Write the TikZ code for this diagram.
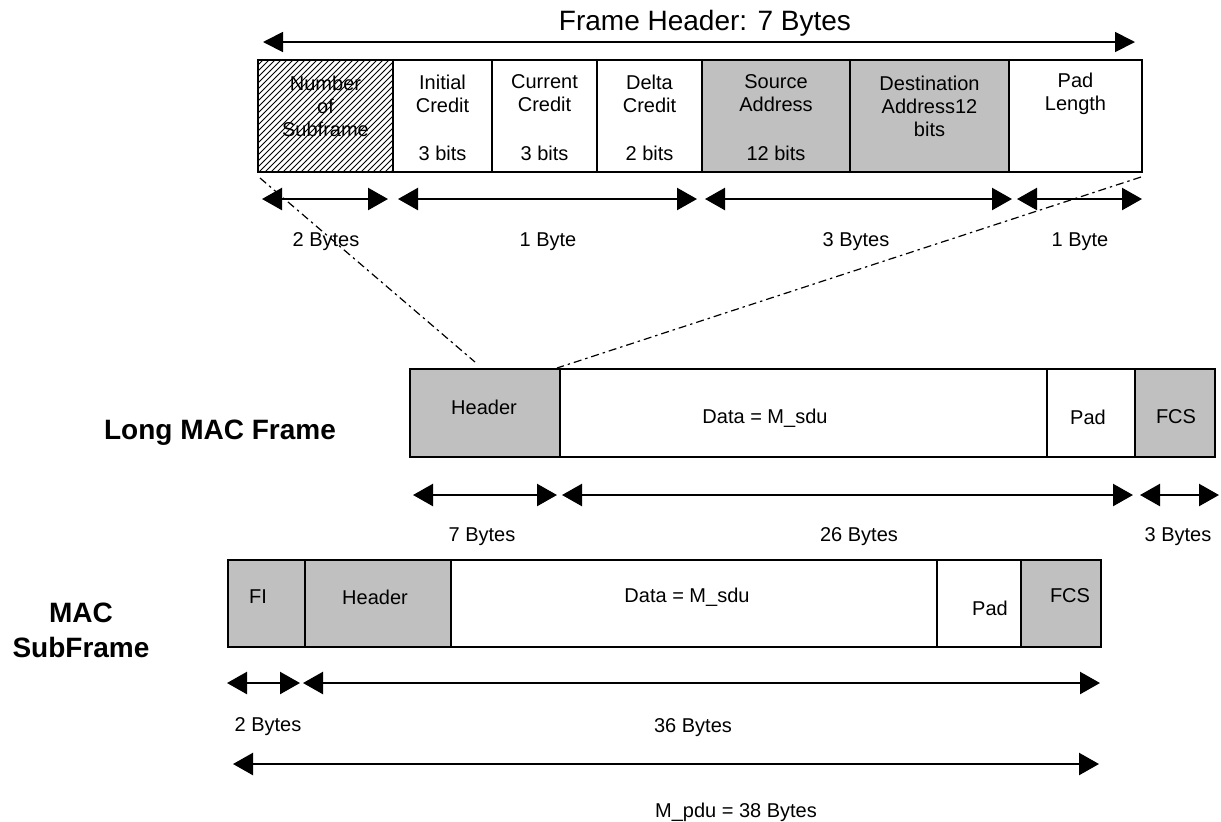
\documentclass[tikz,border=0pt]{standalone}
\usepackage{fontspec}
\setmainfont{Liberation Sans}
\usetikzlibrary{
  arrows.meta,
  patterns,
  positioning
}
\definecolor{shade}{RGB}{192,192,192}
\tikzset{
  field/.style={draw,line width=0.8pt},
  lbl/.style={font=\fontsize{10}{11.5}\selectfont,align=center,inner sep=0pt},
  big/.style={font=\fontsize{14}{17.5}\selectfont\bfseries,align=center,inner sep=0pt},
  dim/.style={line width=1.2pt,{Triangle[length=10pt,width=11pt]}-{Triangle[length=10pt,width=11pt]}},
  zoomline/.style={line width=0.6pt,dash pattern=on 4pt off 2pt on 1.2pt off 2pt}
}

\begin{document}
\begin{tikzpicture}[x=0.5pt,y=-0.5pt]
    %initialisation
    \useasboundingbox (0,0) rectangle (1221,821);
    %definitions
    \coordinate (zl) at (260,178);
    \coordinate (zr) at (1141,177);
    \coordinate (hl) at (475,362);
    \coordinate (hr) at (557,368);
    %frame header
    \draw[line width=0.9pt,{Triangle[length=10pt,width=10pt]}-{Triangle[length=10pt,width=10pt]}] (263,42) -- (1135,42);
    \node[font=\fontsize{14}{16}\selectfont,inner sep=0pt] (title) at (705,23) {Frame Header: 7 Bytes};
    \draw[field,pattern=north east lines] (258,60) rectangle (393,172);
    \draw[field] (393,60) rectangle (492,172);
    \draw[field] (492,60) rectangle (597,172);
    \draw[field] (597,60) rectangle (702,172);
    \draw[field,fill=shade] (702,60) rectangle (850,172);
    \draw[field,fill=shade] (850,60) rectangle (1009,172);
    \draw[field] (1009,60) rectangle (1142,172);
    \node[lbl] (nsub) at (325.5,106) {Number\\of\\Subframe};
    \node[lbl] (icred) at (442.5,93.5) {Initial\\Credit};
    \node[lbl] (ibits) at (442.5,153) {3 bits};
    \node[lbl] (ccred) at (544.5,93.5) {Current\\Credit};
    \node[lbl] (cbits) at (544.5,153) {3 bits};
    \node[lbl] (dcred) at (649.5,93.5) {Delta\\Credit};
    \node[lbl] (dbits) at (649.5,153) {2 bits};
    \node[lbl] (saddr) at (776,93.5) {Source\\Address};
    \node[lbl] (sbits) at (776,153) {12 bits};
    \node[lbl] (daddr) at (929.5,106) {Destination\\Address12\\bits};
    \node[lbl] (padlen) at (1075.5,93.5) {Pad\\Length};
    \draw[dim] (262,199) -- (388,199);
    \draw[dim] (398,199) -- (697,199);
    \draw[dim] (705,199) -- (1012,199);
    \draw[dim] (1017,199) -- (1142,199);
    \node[lbl] (b2) at (326,242) {2 Bytes};
    \node[lbl] (b1) at (548,242) {1 Byte};
    \node[lbl] (b3) at (856,242) {3 Bytes};
    \node[lbl] (b1p) at (1080,242) {1 Byte};
    %zoom lines
    \draw[zoomline] (zl) -- (hl);
    \draw[zoomline] (zr) -- (hr);
    %long mac frame
    \node[big] (long) at (220,433) {Long MAC Frame};
    \draw[field,fill=shade] (410,369) rectangle (560,457);
    \draw[field] (560,369) rectangle (1047,457);
    \draw[field] (1047,369) rectangle (1135,457);
    \draw[field,fill=shade] (1135,369) rectangle (1215,457);
    \node[lbl] (lhdr) at (484,407) {Header};
    \node[lbl] (ldata) at (765,418) {Data = M\_sdu};
    \node[lbl] (lpad) at (1088,417) {Pad};
    \node[lbl] (lfcs) at (1176,417) {FCS};
    \draw[dim] (413,495) -- (557,495);
    \draw[dim] (562,495) -- (1133,495);
    \draw[dim] (1140,495) -- (1219,495);
    \node[lbl] (l7) at (482,537) {7 Bytes};
    \node[lbl] (l26) at (859,537) {26 Bytes};
    \node[lbl] (l3) at (1178,537) {3 Bytes};
    %mac subframe
    \node[big] (sub) at (81,630) {MAC\\SubFrame};
    \draw[field,fill=shade] (228,560) rectangle (305,647);
    \draw[field,fill=shade] (305,560) rectangle (451,647);
    \draw[field] (451,560) rectangle (937,647);
    \draw[field] (937,560) rectangle (1021,647);
    \draw[field,fill=shade] (1021,560) rectangle (1101,647);
    \node[lbl] (sfi) at (258,597) {FI};
    \node[lbl] (shdr) at (375,597) {Header};
    \node[lbl] (sdata) at (687,597) {Data = M\_sdu};
    \node[lbl] (spad) at (990,608) {Pad};
    \node[lbl] (sfcs) at (1070,596) {FCS};
    \draw[dim] (227,683) -- (300,683);
    \draw[dim] (303,683) -- (1100,683);
    \node[lbl] (s2) at (268,727) {2 Bytes};
    \node[lbl] (s36) at (693,728) {36 Bytes};
    \draw[dim] (233,764) -- (1099,764);
    \node[lbl] (mpdu) at (736,812) {M\_pdu = 38 Bytes};
\end{tikzpicture}
\end{document}
